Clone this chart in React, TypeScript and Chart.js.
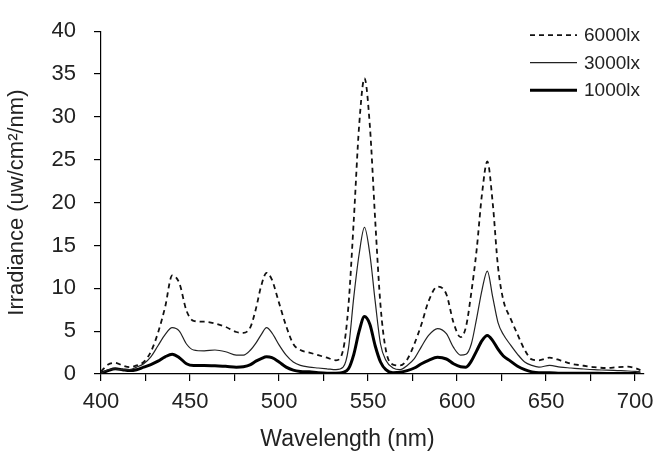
import React, { useEffect, useRef } from 'react';
import { Chart, registerables } from 'chart.js';

Chart.register(...registerables);

// Wavelength (nm)
const wavelengths = [
  400, 404, 408, 412, 416, 420, 424, 428, 432, 436,
  440, 444, 448, 452, 458, 464, 470, 476, 480, 484,
  487, 490, 493, 496, 500, 504, 508, 512, 517, 522,
  527, 532, 536, 539, 542, 545, 548, 551, 554, 557,
  560, 564, 568, 572, 576, 580, 584, 589, 594, 598,
  602, 605, 608, 611, 614, 617, 620, 623, 626, 630,
  634, 638, 642, 646, 652, 658, 664, 670, 677, 684,
  690, 696, 700, 703,
];

// Irradiance (uw/cm²/nm)
const lux6000 = [
  0.3, 1.1, 1.3, 1.0, 0.8, 1.0, 1.4, 2.6, 4.8, 7.8,
  11.5, 10.6, 7.4, 6.2, 6.1, 5.9, 5.5, 4.9, 4.8, 5.5,
  7.6, 10.3, 11.8, 11.0, 8.3, 5.6, 3.5, 2.8, 2.5, 2.2,
  1.9, 1.6, 2.8, 8.0, 18.0, 29.0, 34.5, 29.0, 18.0, 8.0,
  2.8, 1.1, 1.0, 1.7, 3.5, 5.8, 8.5, 10.2, 9.3, 6.0,
  4.3, 5.5, 9.5, 14.5, 21.0, 24.8, 20.0, 12.5, 8.6, 6.5,
  4.6, 2.8, 1.7, 1.6, 1.9, 1.6, 1.2, 1.0, 0.8, 0.7,
  0.8, 0.85, 0.7, 0.45,
];

const lux3000 = [
  0.1, 0.5, 0.6, 0.5, 0.5, 0.8, 1.2, 2.0, 3.3, 4.6,
  5.4, 5.0, 3.5, 2.8, 2.7, 2.8, 2.6, 2.2, 2.2, 2.8,
  3.6, 4.6, 5.4, 4.8, 3.4, 2.2, 1.4, 1.0, 0.8, 0.7,
  0.6, 0.5, 0.8, 3.0, 9.0, 14.0, 17.1, 14.0, 8.5, 3.5,
  1.6, 0.7, 0.5, 1.0, 1.8, 3.2, 4.5, 5.3, 4.7, 3.1,
  2.2, 2.3, 3.5, 6.5, 9.8, 12.0, 9.0, 6.0, 4.6, 3.4,
  2.3, 1.4, 1.0, 0.8, 1.0, 0.8, 0.7, 0.6, 0.5, 0.45,
  0.4, 0.35, 0.3, 0.25,
];

const lux1000 = [
  0.1, 0.4, 0.6, 0.5, 0.4, 0.5, 0.8, 1.1, 1.5, 2.0,
  2.3, 1.9, 1.2, 1.0, 1.0, 0.95, 0.9, 0.8, 0.85, 1.1,
  1.5, 1.8, 2.0, 1.9, 1.4, 0.8, 0.45, 0.3, 0.25, 0.15,
  0.1, 0.1, 0.2, 0.6, 2.3, 5.0, 6.7, 5.8, 3.3, 1.4,
  0.5, 0.15, 0.2, 0.4, 0.7, 1.2, 1.6, 1.95, 1.75, 1.2,
  0.85, 0.8, 1.5, 2.7, 3.9, 4.5, 3.9, 2.9, 2.1, 1.5,
  0.9, 0.5, 0.25, 0.15, 0.15, 0.1, 0.1, 0.1, 0.08, 0.06,
  0.05, 0.05, 0.05, 0.03,
];

const seriesLabels = ['6000lx', '3000lx', '1000lx'];
const xAxisTitle = 'Wavelength (nm)';
const yAxisTitle = 'Irradiance (uw/cm²/nm)';
const xLabelStep = 50;

const FONT = '"Liberation Sans", Arial, sans-serif';

const toPoints = (ys: number[]) => wavelengths.map((x, i) => ({ x, y: ys[i] }));

const cornerLegend = {
  id: 'cornerLegend',
  afterDraw(chart: any) {
    const { ctx, chartArea } = chart;
    ctx.save();
    chart.data.datasets.forEach((ds: any, i: number) => {
      const y = chartArea.top + 4 + i * 27.5;
      const x0 = chartArea.right - 114;
      ctx.beginPath();
      ctx.setLineDash(ds.borderDash || []);
      ctx.lineWidth = ds.borderWidth;
      ctx.strokeStyle = ds.borderColor;
      ctx.moveTo(x0, y);
      ctx.lineTo(x0 + 47, y);
      ctx.stroke();
      ctx.setLineDash([]);
      ctx.fillStyle = '#222';
      ctx.font = `19px ${FONT}`;
      ctx.textBaseline = 'middle';
      ctx.textAlign = 'left';
      ctx.fillText(ds.label, x0 + 54, y + 1);
    });
    // x-axis title (sits slightly left of the plot centre, as in the reference)
    ctx.fillStyle = '#222';
    ctx.font = `23px ${FONT}`;
    ctx.textAlign = 'center';
    ctx.textBaseline = 'middle';
    ctx.fillText(xAxisTitle, (chartArea.left + chartArea.right) / 2 - 25, chartArea.bottom + 66);
    ctx.restore();
  },
};

export default function App() {
  const canvasRef = useRef<HTMLCanvasElement | null>(null);

  useEffect(() => {
    if (!canvasRef.current) return;
    const chart = new Chart(canvasRef.current, {
      type: 'line',
      data: {
        datasets: [
          {
            label: seriesLabels[0],
            data: toPoints(lux6000),
            borderColor: '#111',
            borderWidth: 1.8,
            borderDash: [5, 4],
            pointRadius: 0,
            cubicInterpolationMode: 'monotone',
            fill: false,
          },
          {
            label: seriesLabels[1],
            data: toPoints(lux3000),
            borderColor: '#222',
            borderWidth: 1.2,
            pointRadius: 0,
            cubicInterpolationMode: 'monotone',
            fill: false,
          },
          {
            label: seriesLabels[2],
            data: toPoints(lux1000),
            borderColor: '#000',
            borderWidth: 3,
            pointRadius: 0,
            cubicInterpolationMode: 'monotone',
            fill: false,
          },
        ],
      },
      options: {
        animation: false,
        responsive: true,
        maintainAspectRatio: false,
        layout: { padding: { top: 16, right: 20, left: 0, bottom: 0 } },
        plugins: {
          legend: { display: false },
          tooltip: { enabled: false },
        },
        scales: {
          x: {
            type: 'linear',
            min: 400,
            max: 705,
            border: { display: true, color: '#000', width: 1.2 },
            grid: {
              display: true,
              drawOnChartArea: false,
              drawTicks: true,
              tickLength: 7,
              color: '#000',
              lineWidth: 1.2,
            },
            ticks: {
              stepSize: 25,
              includeBounds: false,
              autoSkip: false,
              maxRotation: 0,
              padding: 8,
              color: '#222',
              font: { family: FONT, size: 22 },
              callback: (v: any) => (Number(v) % xLabelStep === 0 ? String(v) : ''),
            },
            title: { display: false, text: xAxisTitle },
            afterFit: (scale: any) => {
              scale.height = 85;
            },
          },
          y: {
            min: 0,
            max: 40,
            border: { display: true, color: '#000', width: 1.2 },
            grid: {
              display: true,
              drawOnChartArea: false,
              drawTicks: true,
              tickLength: 7,
              color: '#000',
              lineWidth: 1.2,
            },
            ticks: {
              stepSize: 5,
              padding: 18,
              color: '#222',
              font: { family: FONT, size: 22 },
            },
            title: {
              display: true,
              text: yAxisTitle,
              color: '#222',
              font: { family: FONT, size: 22 },
              padding: { top: 4, bottom: 0 },
            },
            afterFit: (scale: any) => {
              scale.width = 101;
            },
          },
        },
      },
      plugins: [cornerLegend],
    } as any);
    return () => chart.destroy();
  }, []);

  return (
    <div style={{ position: 'fixed', left: 0, top: 0, width: 664, height: 459, background: '#fff' }}>
      <canvas ref={canvasRef} />
    </div>
  );
}
